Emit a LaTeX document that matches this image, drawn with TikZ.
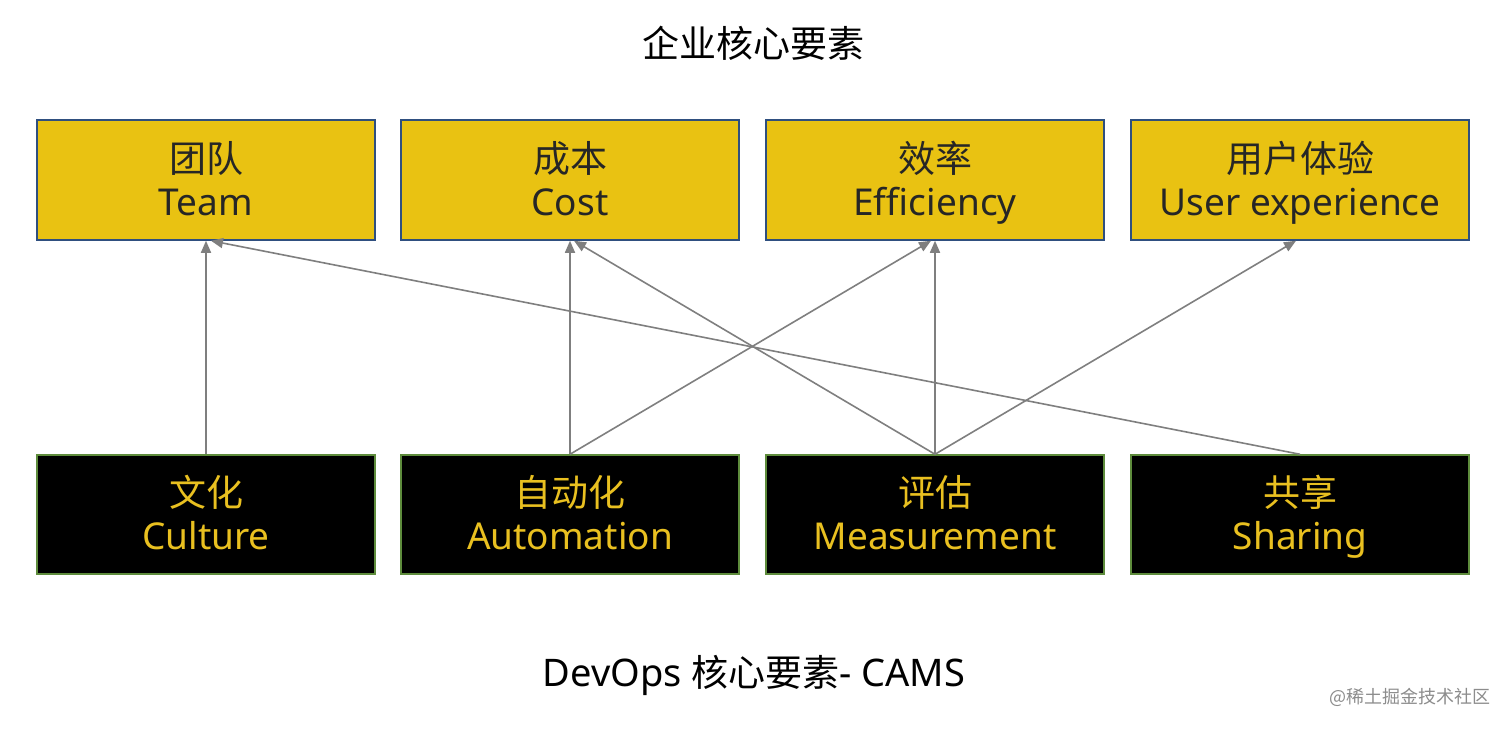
\documentclass[tikz,border=0pt]{standalone}
\usepackage{fontspec}
\setmainfont{Noto Sans}
\newfontfamily\cjk{Noto Sans CJK SC}
\usetikzlibrary{arrows.meta}
\definecolor{ybox}{HTML}{E9C212}
\definecolor{yborder}{HTML}{2F4F7F}
\definecolor{gborder}{HTML}{5E8C3C}
\definecolor{ytext}{HTML}{E9C020}
\definecolor{arr}{HTML}{7F7F7F}
\newcommand{\twol}[2]{{\fontsize{37}{43}\cjk\selectfont\rule{0pt}{40pt}#1\strut}\\{\fontsize{37}{43}\selectfont #2\strut}}
\tikzset{
  goal/.style={draw=yborder, line width=1.5pt, fill=ybox, minimum width=338pt, minimum height=120pt, inner sep=0pt, align=center, font=\fontsize{37}{43}\selectfont, text=black!85},
  cams/.style={draw=gborder, line width=1.5pt, fill=black, minimum width=338pt, minimum height=119pt, inner sep=0pt, align=center, font=\fontsize{37}{43}\selectfont, text=ytext},
  link/.style={draw=arr, line width=1.6pt, -{Triangle[length=12pt,width=10pt]}},
  title/.style={font=\fontsize{37}{40}\selectfont, text=black}
}
\begin{document}
\begin{tikzpicture}[x=1pt,y=-1pt]
\useasboundingbox (0,0) rectangle (1512,729);
\node[title] (t1) at (753,43) {\cjk 企业核心要素};
\node[goal] (team) at (206,180) {\twol{团队}{Team}};
\node[goal] (cost) at (570,180) {\twol{成本}{Cost}};
\node[goal] (eff) at (935,180) {\twol{效率}{Efficiency}};
\node[goal] (ux) at (1300,180) {\twol{用户体验}{User experience}};
\node[cams] (cul) at (206,514.5) {\twol{文化}{Culture}};
\node[cams] (aut) at (570,514.5) {\twol{自动化}{Automation}};
\node[cams] (mea) at (935,514.5) {\twol{评估}{Measurement}};
\node[cams] (sha) at (1300,514.5) {\twol{共享}{Sharing}};
\node[title] (t2) at (754,675) {\fontsize{38}{40}\selectfont DevOps {\cjk\fontsize{37}{40}\selectfont 核心要素}- CAMS};
\node[font=\fontsize{18}{20}\selectfont\cjk, text=black!45] (wm) at (1410,697) {@稀土掘金技术社区};
\draw[link] (cul.north) -- (team.south);
\draw[link] (sha.north) -- ([xshift=5pt]team.south);
\draw[link] (aut.north) -- (cost.south);
\draw[link] (aut.north) -- ([xshift=-4pt]eff.south);
\draw[link] (mea.north) -- ([xshift=4pt]cost.south);
\draw[link] (mea.north) -- (eff.south);
\draw[link] (mea.north) -- ([xshift=-4pt]ux.south);
\end{tikzpicture}
\end{document}
